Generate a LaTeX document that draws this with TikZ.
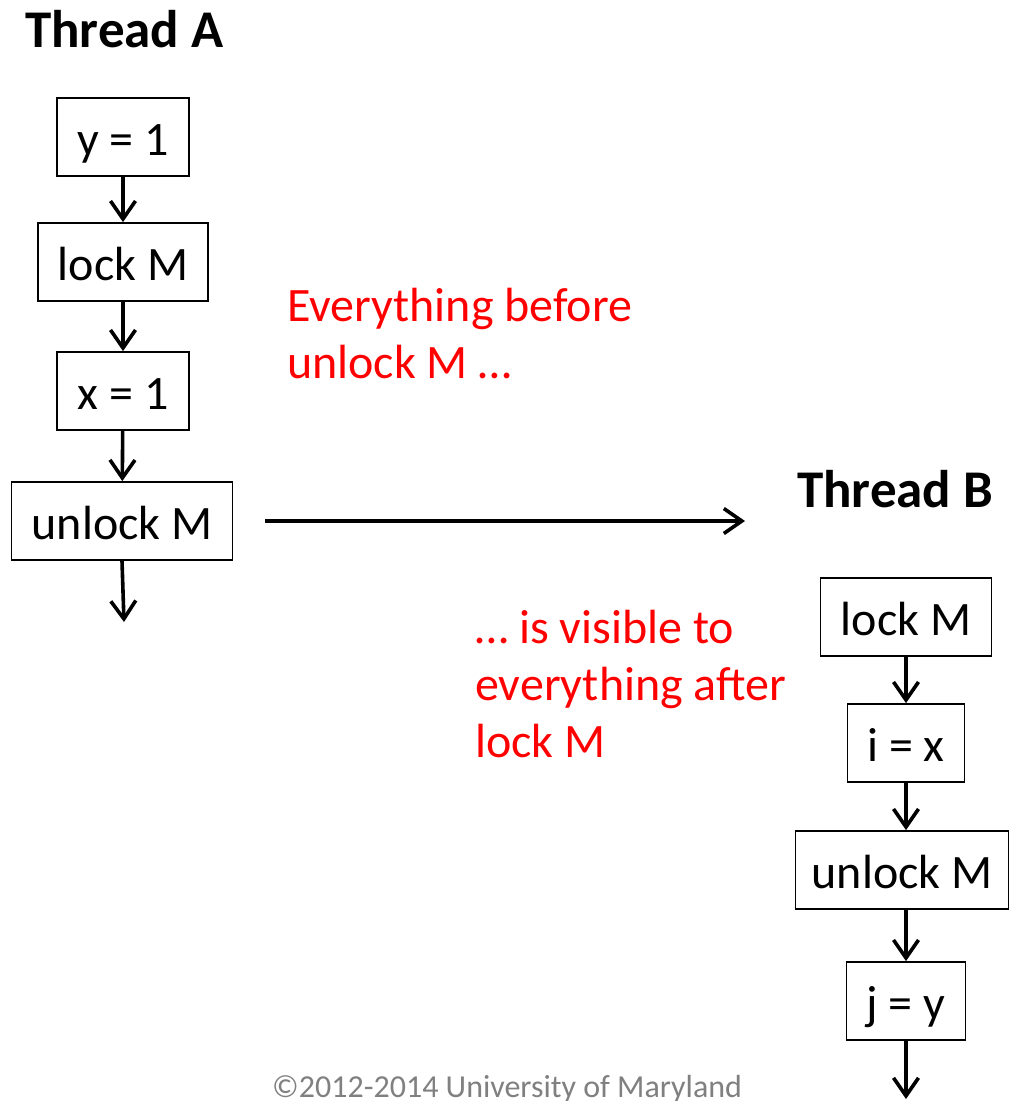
\documentclass[tikz,border=0pt]{standalone}
\usepackage{fontspec}
\setmainfont{Carlito}
\usetikzlibrary{arrows.meta}

\tikzset{
  box/.style={draw, line width=1.8pt, minimum height=78pt, inner sep=0pt,
    text height=37pt, text depth=0pt, font=\fontsize{48}{56}\selectfont},
  flow/.style={-{Straight Barb[length=18pt, width=25pt, line width=3.6pt]}, line width=3.6pt},
  title/.style={anchor=base west, inner sep=0pt, font=\fontsize{53}{60}\selectfont\bfseries},
  note/.style={anchor=north west, inner sep=0pt, align=left, text=red,
    font=\fontsize{48}{57}\selectfont}
}

\begin{document}
\begin{tikzpicture}[x=1pt, y=1pt]
    \useasboundingbox (0,0) rectangle (1009,-1101);

    % Thread A
    \node[title] (titleA) at (25,-47) {Thread A};
    \node[box, minimum width=132pt] (yA) at (123,-137) {y = 1};
    \node[box, minimum width=170pt] (lockA) at (123,-262) {lock M};
    \node[box, minimum width=132pt] (xA) at (123,-391) {x = 1};
    \node[box, minimum width=221pt] (unlockA) at (122,-521) {unlock M};
    \coordinate (endA) at (124,-622);

    \draw[flow] (yA) -- (lockA);
    \draw[flow] (lockA) -- (xA);
    \draw[flow] (xA) -- (unlockA);
    \draw[flow] (unlockA.south) -- (endA);

    % happens-before edge
    \coordinate (hbFrom) at (265,-521);
    \coordinate (hbTo) at (745,-521);
    \draw[flow] (hbFrom) -- (hbTo);

    % Thread B
    \node[title] (titleB) at (797,-507) {Thread B};
    \node[box, minimum width=171pt] (lockB) at (906,-617) {lock M};
    \node[box, minimum width=117pt] (iB) at (906,-743) {i = x};
    \node[box, minimum width=213pt] (unlockB) at (902,-870) {unlock M};
    \node[box, minimum width=119pt] (jB) at (906,-1001) {j = y};
    \coordinate (endB) at (906,-1099);

    \draw[flow] (lockB) -- (iB);
    \draw[flow] (iB.south) -- (iB.south |- unlockB.north);
    \draw[flow] (jB.north |- unlockB.south) -- (jB.north);
    \draw[flow] (jB) -- (endB);

    % annotations
    \node[note] (noteBefore) at (287,-288) {Everything before\\unlock M …};
    \node[note] (noteAfter) at (475,-610) {… is visible to\\everything after\\lock M};

    \node[anchor=base west, inner sep=0pt, text=black!50,
      font=\fontsize{32}{38}\selectfont] (copy) at (272,-1097) {©2012-2014 University of Maryland};
\end{tikzpicture}
\end{document}
